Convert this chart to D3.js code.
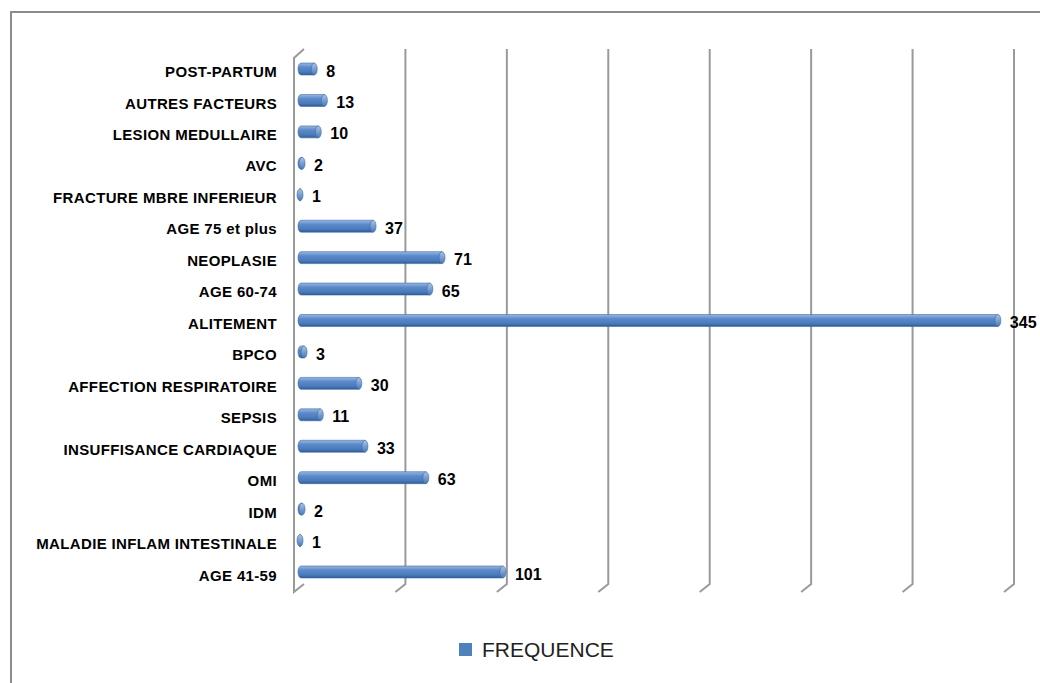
<!DOCTYPE html>
<html><head><meta charset="utf-8">
<script src="https://cdn.jsdelivr.net/npm/d3@7"></script>
<style>body{margin:0;background:#fff}svg{display:block}</style>
</head><body>
<svg id="c" width="1040" height="683"></svg>
<script>
const categories = ["POST-PARTUM","AUTRES FACTEURS","LESION MEDULLAIRE","AVC","FRACTURE MBRE INFERIEUR","AGE 75 et plus","NEOPLASIE","AGE 60-74","ALITEMENT","BPCO","AFFECTION RESPIRATOIRE","SEPSIS","INSUFFISANCE CARDIAQUE","OMI","IDM","MALADIE INFLAM INTESTINALE","AGE 41-59"];
const values = [8,13,10,2,1,37,71,65,345,3,30,11,33,63,2,1,101];
const tickValues = [0,50,100,150,200,250,300,350];
const seriesName = "FREQUENCE";

const svg = d3.select("#c");
const font = "'Liberation Sans', Arial, sans-serif";

// chart border
svg.append("rect").attr("x",11).attr("y",12).attr("width",1100).attr("height",720)
  .attr("fill","none").attr("stroke","#8c8c8c").attr("stroke-width",2);

const x = d3.scaleLinear().domain([0,350]).range([298,1008]);
const y = d3.scaleBand().domain(categories).range([53.3,587.7]).paddingInner(0.62).paddingOuter(0.31);

const topY = 49, backBot = 584, frontBot = 592;

// gridlines (3D)
const grid = svg.append("g");
tickValues.forEach(v => {
  const xb = x(v) + 6;
  if (v === 0) {
    grid.append("path").attr("d",`M${xb},${topY} L${xb-10},${topY+9} L${xb-10},${frontBot} L${xb},${backBot}`)
      .attr("fill","none").attr("stroke","#9a9a9a").attr("stroke-width",2);
  } else {
    grid.append("path").attr("d",`M${xb},${topY} L${xb},${backBot} L${xb-10},${frontBot}`)
      .attr("fill","none").attr("stroke","#9a9a9a").attr("stroke-width",2);
  }
});

// gradient
const defs = svg.append("defs");
const g = defs.append("linearGradient").attr("id","bar").attr("x1",0).attr("y1",0).attr("x2",0).attr("y2",1);
g.append("stop").attr("offset","0%").attr("stop-color","#9ab8e0");
g.append("stop").attr("offset","35%").attr("stop-color","#5b8acb");
g.append("stop").attr("offset","75%").attr("stop-color","#4a7ab8");
g.append("stop").attr("offset","100%").attr("stop-color","#2f5c96");
const gc = defs.append("linearGradient").attr("id","cap").attr("x1",0).attr("y1",0).attr("x2",0).attr("y2",1);
gc.append("stop").attr("offset","0%").attr("stop-color","#a9c3e6");
gc.append("stop").attr("offset","100%").attr("stop-color","#4a7ab8");

const bh = y.bandwidth();
const bars = svg.append("g");
categories.forEach((c,i) => {
  const v = values[i];
  const y0 = y(c), x0 = x(0), x1 = x(v);
  const rx = 3;
  bars.append("path")
    .attr("d",`M${x0+rx},${y0} L${x1},${y0} L${x1},${y0+bh} L${x0+rx},${y0+bh} A${rx},${bh/2} 0 0 1 ${x0+rx},${y0}Z`)
    .attr("fill","url(#bar)").attr("stroke","#3b6aa6").attr("stroke-width",0.6);
  bars.append("ellipse").attr("cx",x1).attr("cy",y0+bh/2).attr("rx",rx).attr("ry",bh/2)
    .attr("fill","url(#cap)").attr("stroke","#3b6aa6").attr("stroke-width",0.6);
  bars.append("text").attr("x",x1+12).attr("y",y0+bh/2+2).attr("dy","0.35em")
    .attr("font-family",font).attr("font-weight","bold").attr("font-size",16).attr("fill","#000")
    .text(v);
});

// category labels
const yl = d3.scaleBand().domain(categories).range([56.5,591.5]);
const axis = d3.axisLeft(yl).tickSize(0).tickPadding(0);
const ag = svg.append("g").attr("transform","translate(277,0)").call(axis);
ag.select(".domain").remove();
ag.selectAll("text").attr("font-family",font).attr("font-weight","bold").attr("font-size",15)
  .attr("fill","#000").attr("letter-spacing","0.35px");

// legend
svg.append("rect").attr("x",459).attr("y",643).attr("width",13).attr("height",13).attr("fill","#4f81bd");
svg.append("text").attr("x",482).attr("y",650).attr("dy","0.35em").attr("font-family",font)
  .attr("font-size",21).attr("fill","#222").text(seriesName);
</script>
</body></html>
